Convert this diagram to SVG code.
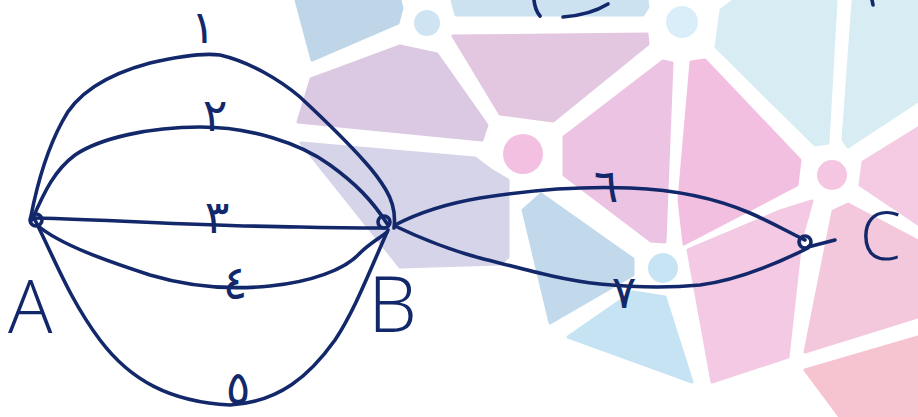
<svg xmlns="http://www.w3.org/2000/svg" width="918" height="417" viewBox="0 0 918 417">
<style>
.bg{stroke-linejoin:round;stroke-width:3}
.e{fill:none;stroke:#12286a;stroke-width:3.6;stroke-linecap:round;stroke-linejoin:round}
.n{fill:none;stroke:#12286a;stroke-width:3.6}
.lt{font-family:"Open Sans","Liberation Sans",Arial,sans-serif;font-weight:300;fill:#12286a}
.num{font-family:"DejaVu Sans","Noto Sans",sans-serif;fill:#12286a;font-size:46px;text-anchor:middle}
</style>
<rect width="918" height="417" fill="#ffffff"/>
<g id="background">
<polygon class="bg" fill="#bfd6e8" stroke="#bfd6e8" points="296,0 400,0 402,8 398,23 312,60"/>
<circle cx="427" cy="23" r="13" fill="#cfe4f2"/>
<polygon class="bg" fill="#cde2f0" stroke="#cde2f0" points="452,0 647,0 648,7 643,15 456,15"/>
<circle cx="682" cy="22" r="16" fill="#d9eef8"/>
<polygon class="bg" fill="#dbc8e2" stroke="#dbc8e2" points="311,79 400,46 437,54 487,125 482,140 298,122"/>
<polygon class="bg" fill="#e3c7e1" stroke="#e3c7e1" points="453,36 647,34 648,44 553,121 500,114"/>
<circle cx="523" cy="154" r="20" fill="#f3c0e2"/>
<polygon class="bg" fill="#d6d4e8" stroke="#d6d4e8" points="301,143 475,158 491,170 508,180 508,257 500,264 400,267"/>
<polygon class="bg" fill="#c2d9ec" stroke="#c2d9ec" points="523,210 541,194 633,259 633,275 550,323"/>
<circle cx="663" cy="268" r="15" fill="#c7e4f4"/>
<polygon class="bg" fill="#c6e3f3" stroke="#c6e3f3" points="568,337 633,292 665,297 692,382"/>
<polygon class="bg" fill="#ecc3e2" stroke="#ecc3e2" points="564,137 663,61 672,63 665,242 651,241 564,175"/>
<polygon class="bg" fill="#f3bfe1" stroke="#f3bfe1" points="691,62 705,60 800,160 797,185 684,244 679,200"/>
<polygon class="bg" fill="#d7edf3" stroke="#d7edf3" points="721,10 733,1 836,1 828,143 815,145 716,47"/>
<polygon class="bg" fill="#d7edf3" stroke="#d7edf3" points="853,1 918,0 918,101 848,147 843,140"/>
<circle cx="832" cy="175" r="15" fill="#f4c6e2"/>
<polygon class="bg" fill="#f5cae3" stroke="#f5cae3" points="863,162 918,128 918,224 860,185"/>
<polygon class="bg" fill="#f3c9e3" stroke="#f3c9e3" points="688,250 780,211 812,201 801,240 788,357 712,382"/>
<polygon class="bg" fill="#f4c8dc" stroke="#f4c8dc" points="833,211 848,204 918,241 918,317 805,352"/>
<polygon class="bg" fill="#f6c3d0" stroke="#f6c3d0" points="805,370 918,337 918,417 840,417"/>
<path class="e" d="M534,0 Q535,10 540,16"/>
<path class="e" d="M563,17 Q590,15 608,4"/>
<path class="e" d="M872,0 L873,5"/>
</g>
<g id="connectors">
<path id="e1" class="e" d="M31,216 C38,180 48,148 62,122 C75,95 105,75 150,63 C180,56 205,53 220,55 C250,62 280,80 300,97 C330,125 350,145 365,162 C375,173 380,180 386,190 C392,200 396,212 394,228"/>
<path id="e2" class="e" d="M32,220 C45,190 55,170 75,155 C100,138 150,127 200,127 C250,127 300,143 330,165 C355,183 372,200 388,225"/>
<path id="e3" class="e" d="M35,218 C120,220 200,226 300,227 C340,228 370,228 385,228"/>
<path id="e4" class="e" d="M37,225 C60,245 110,262 150,275 C190,287 230,290 270,286 C310,282 345,270 360,253 C370,243 380,238 387,232"/>
<path id="e5" class="e" d="M35,220 C55,260 70,300 100,340 C130,380 170,402 230,405 C280,402 310,375 335,340 C355,310 370,270 388,230"/>
<path id="e6" class="e" d="M395,225 C420,212 450,203 480,198 C530,190 580,186 630,188 C680,190 720,200 750,213 C775,224 790,233 805,240"/>
<path id="e7" class="e" d="M395,226 C420,238 450,250 480,258 C520,268 560,280 600,284 C640,288 670,288 700,285 C740,280 780,262 808,248"/>
<text class="num" x="203" y="43" font-size="40">١</text>
<text class="num" x="215" y="131">٢</text>
<text class="num" x="217" y="233">٣</text>
<text class="num" x="235" y="299" font-size="50">٤</text>
<text class="num" x="238" y="404" font-size="48">٥</text>
<text class="num" x="606" y="202" font-size="62">٦</text>
<text class="num" x="624" y="308" font-size="50">٧</text>
</g>
<g id="node-A">
<circle class="n" cx="36" cy="220" r="6"/>
<text class="lt" x="8" y="333" font-size="74">A</text>
</g>
<g id="node-B">
<circle class="n" cx="384" cy="222" r="6"/>
<text class="lt" x="368" y="332" font-size="78">B</text>
</g>
<g id="node-C">
<circle class="n" cx="805" cy="242" r="6"/>
<path class="e" d="M808,247 L835,240"/>
<text class="lt" x="860" y="260" font-size="66">C</text>
</g>
</svg>
